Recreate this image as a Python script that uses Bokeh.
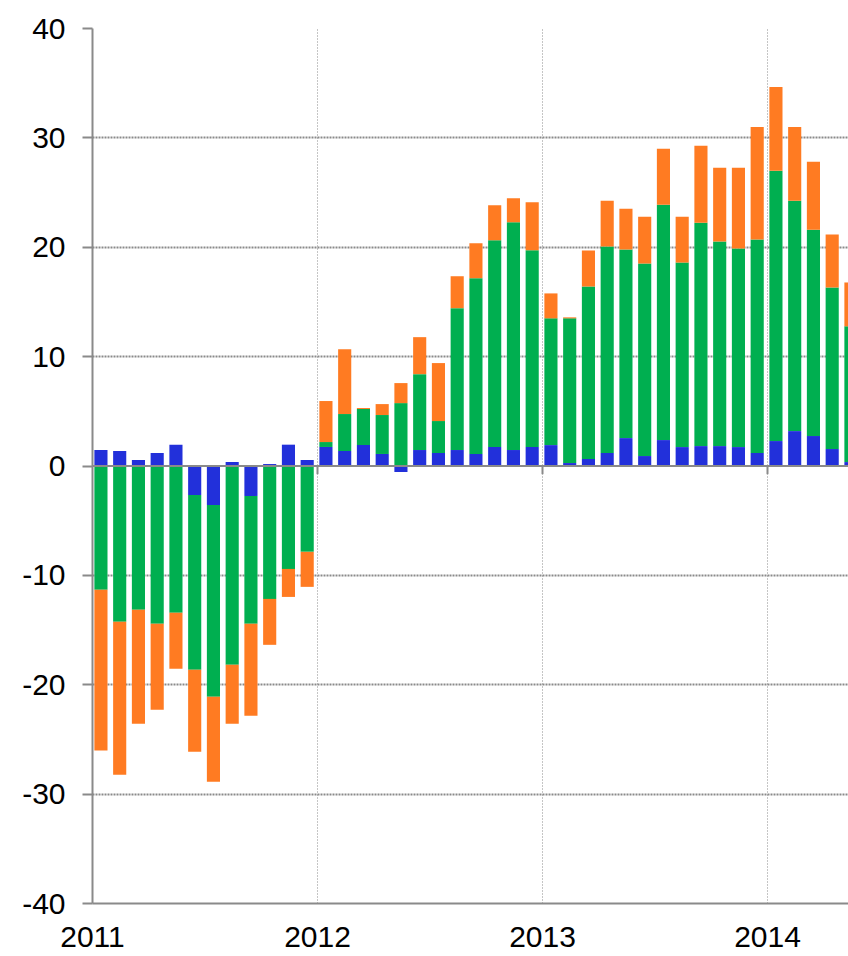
import numpy as np
from bokeh.plotting import figure
from bokeh.models import FixedTicker, Span, ColumnDataSource, Range1d
from bokeh.embed import file_html
from bokeh.resources import INLINE

# Monthly data, Jan 2011 .. May 2014
months = [f"{y}-{m:02d}" for y in range(2011, 2015) for m in range(1, 13)][:41]

blue = [1.46, 1.37, 0.55, 1.19, 1.95, -2.65, -3.56, 0.37, -2.74, 0.18, 1.95, 0.55,
        1.74, 1.37, 1.92, 1.10, -0.55, 1.46, 1.19, 1.46, 1.10, 1.74, 1.46, 1.74,
        1.91, 0.27, 0.64, 1.19, 2.55, 0.91, 2.37, 1.73, 1.82, 1.82, 1.73, 1.19,
        2.28, 3.19, 2.74, 1.55, 0.36]
green = [-11.32, -14.25, -13.15, -14.43, -13.42, -15.98, -17.54, -18.17, -11.69, -12.15, -9.41, -7.85,
         0.45, 3.38, 3.29, 3.56, 5.75, 6.94, 2.92, 12.97, 16.07, 18.90, 20.82, 17.99,
         11.59, 13.23, 15.77, 18.87, 17.24, 17.60, 21.52, 16.87, 20.43, 18.70, 18.15, 19.51,
         24.71, 21.07, 18.87, 14.77, 12.41]
orange = [-14.70, -13.97, -10.41, -7.85, -5.11, -7.49, -7.76, -5.39, -8.40, -4.20, -2.56, -3.20,
          3.75, 5.93, 0.09, 1.00, 1.83, 3.38, 5.30, 2.92, 3.20, 3.20, 2.19, 4.38,
          2.28, 0.09, 3.29, 4.20, 3.74, 4.29, 5.11, 4.20, 7.02, 6.74, 7.38, 10.30,
          7.66, 6.74, 6.20, 4.84, 4.01]

year_ticks = [0, 12, 24, 36]
year_labels = ["2011", "2012", "2013", "2014"]
y_ticks = [-40, -30, -20, -10, 0, 10, 20, 30, 40]

colors = ["#2230DA", "#00AF50", "#FF7B22"]
GRAY = "#8a8a8a"

x = np.arange(len(months)) + 0.45

p = figure(width=848, height=956, output_backend="svg", toolbar_location=None,
           x_range=Range1d(0, 40.32), y_range=Range1d(-40, 40),
           min_border_left=92, min_border_right=0, min_border_top=28, min_border_bottom=53)
p.outline_line_color = None

pos = np.zeros(len(months))
neg = np.zeros(len(months))
for series, col in zip([blue, green, orange], colors):
    v = np.array(series, dtype=float)
    bottom = np.where(v >= 0, pos, neg)
    top = bottom + v
    pos = np.where(v >= 0, top, pos)
    neg = np.where(v < 0, top, neg)
    src = ColumnDataSource(dict(x=x, top=top, bottom=bottom))
    p.vbar(x="x", top="top", bottom="bottom", width=0.7, source=src,
           fill_color=col, line_color=None)

p.add_layout(Span(location=0, dimension="width", line_color=GRAY, line_width=2))
# small tick marks below the zero line at each year boundary
yt = np.array(year_ticks[1:], dtype=float)
p.segment(x0=yt, x1=yt, y0=np.zeros(len(yt)), y1=np.full(len(yt), -0.75),
          line_color=GRAY, line_width=2)

# axes
p.xaxis.ticker = FixedTicker(ticks=year_ticks)
p.xaxis.major_label_overrides = {t: l for t, l in zip(year_ticks, year_labels)}
p.yaxis.ticker = FixedTicker(ticks=y_ticks)
p.yaxis.major_label_overrides = {t: str(t) for t in y_ticks}
for ax in (p.xaxis, p.yaxis):
    ax.axis_line_color = GRAY
    ax.axis_line_width = 2
    ax.minor_tick_line_color = None
    ax.major_label_text_font = "Liberation Sans"
    ax.major_label_text_font_size = "30px"
    ax.major_label_text_color = "black"
p.xaxis.major_tick_line_color = None
p.xaxis.major_label_standoff = 17
p.yaxis.major_tick_line_color = GRAY
p.yaxis.major_tick_line_width = 2
p.yaxis.major_tick_out = 10
p.yaxis.major_tick_in = 0
p.yaxis.major_label_standoff = 17

p.xgrid.ticker = FixedTicker(ticks=year_ticks[1:])
p.xgrid.grid_line_color = GRAY
p.xgrid.grid_line_dash = "1 2"
p.xgrid.grid_line_width = 1
p.ygrid.ticker = FixedTicker(ticks=[-30, -20, -10, 10, 20, 30])
p.ygrid.grid_line_color = GRAY
p.ygrid.grid_line_dash = "2 1"
p.ygrid.grid_line_width = 2

open("out.html", "w").write(file_html(p, INLINE))
